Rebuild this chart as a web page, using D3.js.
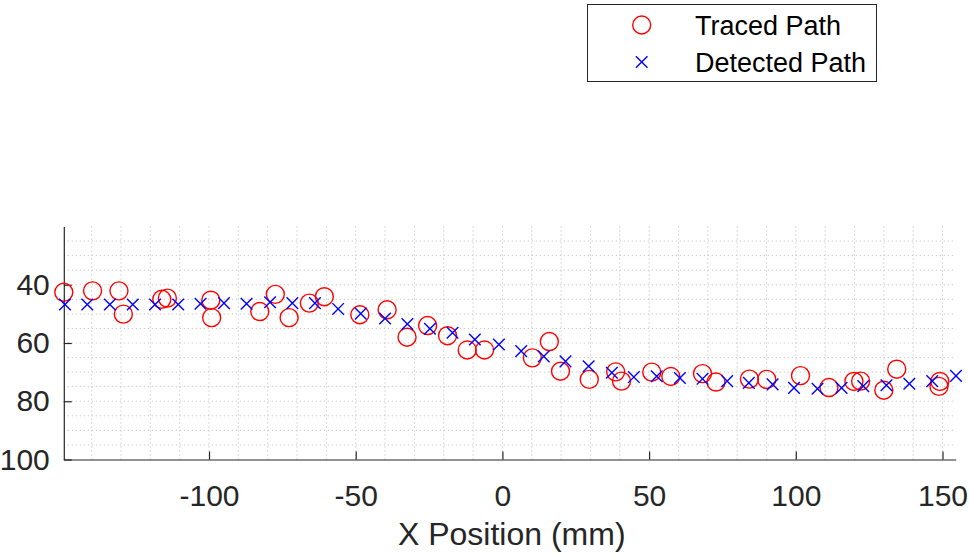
<!DOCTYPE html>
<html>
<head>
<meta charset="utf-8">
<script src="https://cdn.jsdelivr.net/npm/d3@7"></script>
<style>
  html, body { margin: 0; padding: 0; background: #fff; }
  svg { display: block; }
  text { font-family: "Liberation Sans", Arial, Helvetica, sans-serif; }
</style>
</head>
<body>
<svg id="chart" width="969" height="557"></svg>
<script>
// ---- data ----
const tracedX = [-149.5, -139.7, -130.7, -129.2, -116.1, -114.2, -99.4, -99.1, -82.7, -77.4,
                 -72.7, -65.8, -60.7, -48.6, -39.3, -32.5, -25.5, -18.7, -12.0, -6.1,
                 10.2, 16.0, 19.8, 29.6, 38.6, 40.6, 50.9, 57.4, 68.2, 72.8,
                 84.2, 90.1, 101.6, 111.3, 119.8, 122.1, 130.0, 134.4, 149.1, 148.8];
const tracedY = [42.6, 42.1, 42.1, 50.1, 45.0, 44.6, 45.3, 51.3, 49.2, 43.3,
                 51.3, 46.3, 44.1, 50.3, 48.6, 58.0, 54.0, 57.5, 62.4, 62.4,
                 65.1, 59.5, 69.7, 72.5, 69.9, 73.1, 70.0, 71.5, 70.5, 73.4,
                 72.4, 72.5, 71.2, 75.3, 73.2, 73.1, 76.2, 69.0, 73.2, 74.9];
const detectedX = [-149.1, -141.5, -133.8, -126.0, -118.4, -110.5, -102.9, -94.9, -87.2, -79.2,
                   -71.6, -63.9, -56.0, -48.3, -40.0, -32.4, -24.7, -17.0, -9.4, -1.2,
                   6.4, 14.1, 21.5, 29.4, 37.3, 44.8, 52.6, 60.5, 68.2, 76.6,
                   84.0, 92.1, 99.4, 107.4, 115.6, 123.0, 130.9, 138.7, 146.5, 154.6];
const detectedY = [46.8, 46.8, 46.8, 46.8, 46.8, 46.8, 46.5, 46.3, 46.5, 46.0,
                   46.3, 46.3, 48.3, 49.9, 51.6, 53.5, 55.1, 56.5, 58.8, 60.5,
                   62.8, 64.6, 66.3, 68.0, 70.2, 71.7, 71.4, 72.0, 72.3, 73.1,
                   73.7, 74.2, 75.4, 75.7, 75.4, 74.8, 74.5, 74.0, 73.1, 71.3];
const xTicks = [-100, -50, 0, 50, 100, 150];
const yTicks = [40, 60, 80, 100];
const xLabel = "X Position (mm)";
const seriesNames = ["Traced Path", "Detected Path"];

// ---- layout ----
const svg = d3.select("#chart");
const pL = 63.8, pR = 955.7, pT = 226.5, pB = 459.5;
const x = d3.scaleLinear().domain([-149.5, 154.5]).range([pL, pR]);
const y = d3.scaleLinear().domain([20, 100]).range([pT, pB]);
const axisColor = "#262626";
const tickFont = 30;

// grid (dotted minor grid)
const grid = svg.append("g").attr("stroke", "#b8b8b8").attr("stroke-width", 1)
  .attr("stroke-dasharray", "1,3").attr("fill", "none");
grid.selectAll("line.vx").data(d3.range(-140, 151, 10)).join("line").attr("class", "vx")
  .attr("x1", d => x(d)).attr("x2", d => x(d)).attr("y1", pT).attr("y2", pB);
grid.selectAll("line.hy").data(d3.range(25, 100, 5)).join("line").attr("class", "hy")
  .attr("y1", d => y(d)).attr("y2", d => y(d)).attr("x1", pL).attr("x2", pR);

// axes
const xAxis = d3.axisBottom(x).tickValues(xTicks).tickSizeInner(-8).tickSizeOuter(0).tickPadding(25);
const gx = svg.append("g").attr("transform", `translate(0,${pB})`).call(xAxis);
gx.select(".domain").attr("stroke", axisColor).attr("stroke-width", 1.2);
gx.selectAll(".tick line").attr("stroke", axisColor).attr("stroke-width", 1.2);
gx.selectAll(".tick text").attr("fill", axisColor).attr("font-size", tickFont)
  .attr("font-family", "'Liberation Sans', Arial, sans-serif")
  .text(d => d < 0 ? "-" + Math.abs(d) : d);

const yAxis = d3.axisLeft(y).tickValues(yTicks).tickSizeInner(-8).tickSizeOuter(0).tickPadding(14);
const gy = svg.append("g").attr("transform", `translate(${pL},0)`).call(yAxis);
gy.select(".domain").attr("stroke", axisColor).attr("stroke-width", 1.2);
gy.selectAll(".tick line").attr("stroke", axisColor).attr("stroke-width", 1.2);
gy.selectAll(".tick text").attr("fill", axisColor).attr("font-size", tickFont)
  .attr("font-family", "'Liberation Sans', Arial, sans-serif");

// axis label
svg.append("text").attr("x", (pL + pR) / 2 + 2).attr("y", 545)
  .attr("text-anchor", "middle").attr("font-size", 32).attr("fill", axisColor)
  .text(xLabel);

// data
const traced = tracedX.map((v, i) => ({x: v, y: tracedY[i]}));
const detected = detectedX.map((v, i) => ({x: v, y: detectedY[i]}));
const R = 9, C = 5.8;

svg.append("g").selectAll("circle").data(traced).join("circle")
  .attr("cx", d => x(d.x)).attr("cy", d => y(d.y)).attr("r", R)
  .attr("fill", "none").attr("stroke", "#ff0000").attr("stroke-width", 1.4);

const crossPath = (cx, cy, s) => `M${cx - s},${cy - s}L${cx + s},${cy + s}M${cx - s},${cy + s}L${cx + s},${cy - s}`;
svg.append("g").selectAll("path").data(detected).join("path")
  .attr("d", d => crossPath(x(d.x), y(d.y), C))
  .attr("fill", "none").attr("stroke", "#0000ff").attr("stroke-width", 1.4);

// legend
const lg = svg.append("g");
lg.append("rect").attr("x", 587.5).attr("y", 4.5).attr("width", 289).attr("height", 77)
  .attr("fill", "#fff").attr("stroke", axisColor).attr("stroke-width", 1);
lg.append("circle").attr("cx", 641.7).attr("cy", 25).attr("r", R)
  .attr("fill", "none").attr("stroke", "#ff0000").attr("stroke-width", 1.4);
lg.append("path").attr("d", crossPath(641.7, 62, C))
  .attr("fill", "none").attr("stroke", "#0000ff").attr("stroke-width", 1.4);
lg.selectAll("text").data(seriesNames).join("text")
  .attr("x", 695).attr("y", (d, i) => i === 0 ? 25 : 62).attr("dy", "0.36em")
  .attr("font-size", 27).attr("fill", "#000").text(d => d);
</script>
</body>
</html>
